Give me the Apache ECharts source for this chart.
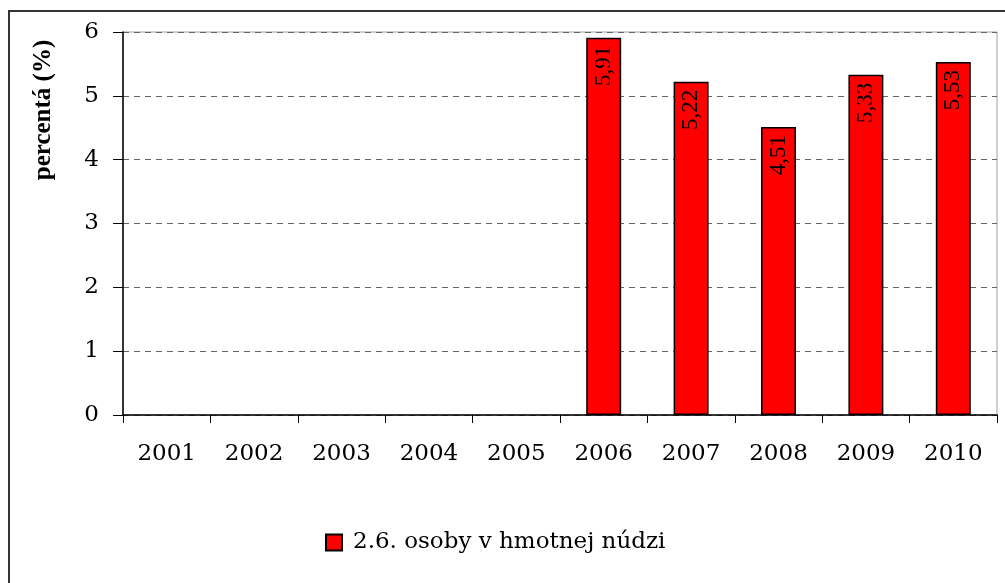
<!DOCTYPE html>
<html>
<head>
<meta charset="utf-8">
<script src="https://cdn.jsdelivr.net/npm/echarts@6/dist/echarts.min.js"></script>
<style>
html,body{margin:0;padding:0;background:#fff;}
#c{width:1005px;height:583px;}
</style>
</head>
<body>
<div id="c"></div>
<script>
var categories = ['2001','2002','2003','2004','2005','2006','2007','2008','2009','2010'];
var values = [null, null, null, null, null, 5.91, 5.22, 4.51, 5.33, 5.53];
var seriesName = '2.6. osoby v hmotnej núdzi';
var yTitle = 'percentá (%)';

var chart = echarts.init(document.getElementById('c'));
chart.setOption({
  animation: false,
  backgroundColor: '#fff',
  grid: { left: 123, right: 8, top: 32, bottom: 168, show: true, borderColor: '#a0a0a0', borderWidth: 1 },
  graphic: [
    { type: 'rect', shape: { x: 9, y: 11, width: 1100, height: 700 }, style: { fill: 'none', stroke: '#333', lineWidth: 2 }, z: 10 },
    { type: 'text', x: 44, y: 110, rotation: Math.PI / 2, style: { text: yTitle, font: 'bold 25px "Liberation Serif"', fill: '#000', align: 'center', verticalAlign: 'middle' }, z: 10 }
  ],
  legend: {
    left: 325, top: 531, padding: 0,
    icon: 'rect', itemWidth: 16, itemHeight: 16, itemGap: 10,
    textStyle: { fontFamily: 'DejaVu Serif', fontSize: 23, color: '#000', padding: [0, 0, 0, 6] },
    data: [seriesName]
  },
  xAxis: {
    type: 'category', data: categories, boundaryGap: true,
    axisLine: { lineStyle: { color: '#000', width: 1.5 } },
    axisTick: { show: true, length: 8, lineStyle: { color: '#000' } },
    axisLabel: { color: '#000', fontFamily: 'DejaVu Serif', fontSize: 23, margin: 28 },
    splitLine: { show: false }
  },
  yAxis: {
    type: 'value', min: 0, max: 6, interval: 1,
    axisLine: { show: true, lineStyle: { color: '#000', width: 1.5 } },
    axisTick: { show: true, length: 10, lineStyle: { color: '#000' } },
    axisLabel: { color: '#000', fontFamily: 'DejaVu Serif', fontSize: 23, margin: 24 },
    splitLine: { show: true, lineStyle: { color: '#666', type: [6, 5], width: 1 } }
  },
  series: [{
    name: seriesName, type: 'bar', data: values, barWidth: '40%',
    itemStyle: { color: '#ff0000', borderColor: '#000', borderWidth: 1.5 },
    label: {
      show: true, position: 'insideTop', rotate: 90, align: 'right', verticalAlign: 'middle',
      distance: 8,
      formatter: function (p) { return p.value == null ? '' : p.value.toFixed(2).replace('.', ','); },
      fontFamily: 'Liberation Serif', fontSize: 23, color: '#000'
    }
  }]
});
</script>
</body>
</html>
